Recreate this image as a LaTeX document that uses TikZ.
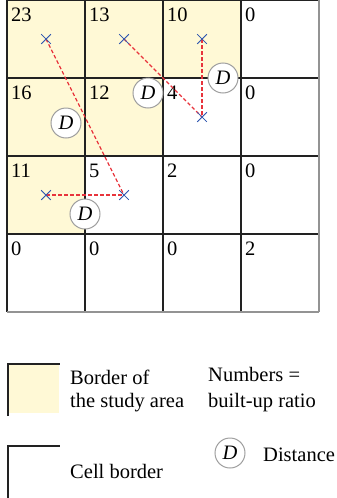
\documentclass[tikz,border=0pt]{standalone}
\usepackage{fontspec}
\setmainfont{Liberation Serif}
\usetikzlibrary{shapes.misc}
\definecolor{cArea}{RGB}{255,249,214}
\definecolor{cDash}{RGB}{232,52,60}
\definecolor{cCross}{RGB}{48,88,176}
\definecolor{cGrid}{RGB}{34,34,34}
\tikzset{
    areacell/.style={fill=cArea, draw=none},
    gridline/.style={draw=cGrid, line width=0.06cm},
    edgeline/.style={draw=gray!85, line width=0.045cm},
    cellnum/.style={anchor=base west, inner sep=0pt},
    centre/.style={cross out, draw=cCross, line width=0.6pt, minimum size=0.27cm, inner sep=0pt},
    distlink/.style={draw=cDash, line width=0.04cm, dash pattern=on 0.11cm off 0.07cm},
    distmark/.style={circle, draw=gray!75, fill=white, line width=0.03cm, minimum size=0.9cm, inner sep=0pt, font=\fontsize{17.5}{20}\selectfont\itshape},
    legtext/.style={anchor=base west, inner sep=0pt},
}
\begin{document}
\begin{tikzpicture}[x=0.03cm, y=-0.03cm, font=\fontsize{17.5}{20}\selectfont]
    \useasboundingbox (0,0) rectangle (337,498);
    % study area cells
    \foreach \c/\r in {0/0, 1/0, 2/0, 0/1, 1/1, 0/2}
        \fill[areacell] (7+78*\c,78*\r) rectangle ++(78,78);
    % grid
    \foreach \i in {0,1,2,3}
        \draw[gridline] (7+78*\i,0) -- (7+78*\i,312);
    \foreach \i in {0,1,2,3}
        \draw[gridline] (7,78*\i) -- (319,78*\i);
    \draw[edgeline] (319,0) -- (319,312);
    \draw[edgeline] (7,312) -- (319,312);
    % built-up ratios
    \foreach \c/\r/\v in {0/0/23, 1/0/13, 2/0/10, 3/0/0,
                          0/1/16, 1/1/12, 2/1/4, 3/1/0,
                          0/2/11, 1/2/5, 2/2/2, 3/2/0,
                          0/3/0, 1/3/0, 2/3/0, 3/3/2}
        \node[cellnum] (n\c\r) at (11+78*\c,21+78*\r) {\v};
    % cell centres
    \node[centre] (p00) at (46,39) {};
    \node[centre] (p10) at (124,39) {};
    \node[centre] (p20) at (202,39) {};
    \node[centre] (p21) at (202,117) {};
    \node[centre] (p02) at (46,195) {};
    \node[centre] (p12) at (124,195) {};
    \draw[distlink] (p00.center) -- (p12.center);
    \draw[distlink] (p10.center) -- (p21.center);
    \draw[distlink] (p20.center) -- (p21.center);
    \draw[distlink] (p02.center) -- (p12.center);
    \foreach \p in {p00,p10,p20,p21,p02,p12}
        \node[centre] at (\p) {};
    % distances
    \node[distmark] (d1) at (66,123) {D};
    \node[distmark] (d2) at (148,93) {D};
    \node[distmark] (d3) at (223,78) {D};
    \node[distmark] (d4) at (85,214) {D};
    % legend
    \fill[areacell] (8,364) rectangle (59,413);
    \draw[gridline] (8,416) -- (8,364) -- (60,364);
    \node[legtext] (lgA1) at (70,384) {Border of};
    \node[legtext] (lgA2) at (70,407) {the study area};
    \node[legtext] (lgN1) at (208,381) {Numbers =};
    \node[legtext] (lgN2) at (208,407) {built-up ratio};
    \draw[draw=cGrid, line width=0.04cm] (8,498) -- (8,446) -- (60,446);
    \node[legtext] (lgC) at (70,478) {Cell border};
    \node[distmark] (lgD) at (230,453) {D};
    \node[legtext] (lgD1) at (263,461) {Distance};
\end{tikzpicture}
\end{document}
